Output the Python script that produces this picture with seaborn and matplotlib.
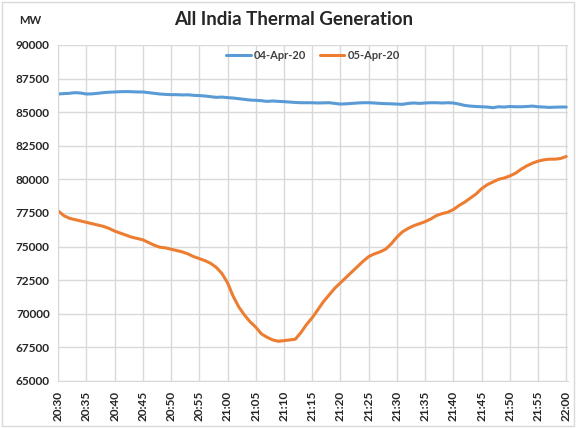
import numpy as np
import pandas as pd
import seaborn as sns
import matplotlib.pyplot as plt

# tick labels, one every 5 minutes from 20:30 to 22:00
tick_labels = ["20:30", "20:35", "20:40", "20:45", "20:50", "20:55", "21:00",
               "21:05", "21:10", "21:15", "21:20", "21:25", "21:30", "21:35",
               "21:40", "21:45", "21:50", "21:55", "22:00"]

# per-minute generation in MW
apr04 = [86350, 86380, 86400, 86450, 86420, 86350, 86360, 86400, 86450, 86480,
         86500, 86520, 86530, 86520, 86500, 86500, 86450, 86400, 86350, 86320,
         86300, 86300, 86280, 86290, 86250, 86230, 86200, 86150, 86100, 86120,
         86080, 86050, 86000, 85950, 85900, 85880, 85850, 85800, 85830, 85800,
         85780, 85750, 85720, 85700, 85700, 85700, 85680, 85690, 85700, 85650,
         85600, 85620, 85650, 85680, 85700, 85700, 85680, 85650, 85630, 85620,
         85600, 85580, 85650, 85680, 85650, 85680, 85700, 85700, 85680, 85700,
         85680, 85600, 85500, 85450, 85420, 85400, 85380, 85330, 85400, 85380,
         85420, 85400, 85400, 85420, 85450, 85400, 85380, 85350, 85370, 85380,
         85380]

apr05 = [77650, 77300, 77100, 77000, 76900, 76800, 76700, 76600, 76500, 76350,
         76150, 76000, 75850, 75700, 75600, 75500, 75300, 75100, 74950, 74900,
         74800, 74700, 74600, 74450, 74250, 74100, 73950, 73750, 73450, 73000,
         72300, 71300, 70500, 69900, 69400, 69000, 68500, 68250, 68050, 67950,
         68000, 68050, 68100, 68600, 69200, 69700, 70300, 70900, 71400, 71900,
         72300, 72700, 73100, 73500, 73900, 74250, 74450, 74600, 74800, 75200,
         75700, 76100, 76350, 76550, 76700, 76850, 77050, 77300, 77450, 77550,
         77750, 78050, 78300, 78600, 78900, 79300, 79600, 79800, 80000, 80100,
         80250, 80450, 80750, 81000, 81200, 81350, 81450, 81500, 81500, 81550,
         81700]

minutes = np.arange(len(apr04))

df = pd.DataFrame({
    "minute": np.concatenate([minutes, minutes]),
    "MW": apr04 + apr05,
    "day": ["04-Apr-20"] * len(apr04) + ["05-Apr-20"] * len(apr05),
})

sns.set_style("white")
plt.rcParams["font.family"] = ["Lato", "DejaVu Sans"]

fig = plt.figure(figsize=(5.76, 4.28), dpi=100)
ax = fig.add_axes([0.101, 0.110, 0.885, 0.785])

sns.lineplot(data=df, x="minute", y="MW", hue="day",
             palette={"04-Apr-20": "#5B9BD5", "05-Apr-20": "#ED7D31"},
             linewidth=2.2, ax=ax)

ax.set_xlim(0, 90.3)
ax.set_ylim(65000, 90000)
ax.set_xticks(np.arange(0, 91, 5))
ax.set_xticklabels(tick_labels, rotation=90, fontsize=8.5, fontweight="bold")
ax.set_yticks(np.arange(65000, 90001, 2500))
ax.set_yticklabels([str(v) for v in range(65000, 90001, 2500)],
                   fontsize=8.5, fontweight="bold")
ax.tick_params(axis="x", length=0, pad=7)
ax.tick_params(axis="y", length=0, pad=6)
ax.grid(True, color="#d9d9d9", linewidth=1)
ax.set_xlabel("")
ax.set_ylabel("")
for s in ["top", "right"]:
    ax.spines[s].set_visible(False)
for s in ["left", "bottom"]:
    ax.spines[s].set_color("#d9d9d9")

leg = ax.legend(loc="upper center", bbox_to_anchor=(0.5, 1.015), ncol=2,
                frameon=False, fontsize=8, handlelength=2.2,
                columnspacing=1.2, handletextpad=0.3)
for t in leg.get_texts():
    t.set_fontweight("bold")
    t.set_color("#404040")

fig.text(0.51, 0.955, "All India Thermal Generation", ha="center", va="center",
         fontsize=13.5, fontweight="bold", color="#262626")
fig.text(0.052, 0.952, "MW", ha="center", va="center",
         fontsize=8, fontweight="bold", color="#262626")

fig.patches.append(plt.Rectangle((0.003, 0.005), 0.994, 0.99, fill=False,
                                 edgecolor="#d9d9d9", linewidth=1,
                                 transform=fig.transFigure))

fig.savefig("out.png", dpi=100)
